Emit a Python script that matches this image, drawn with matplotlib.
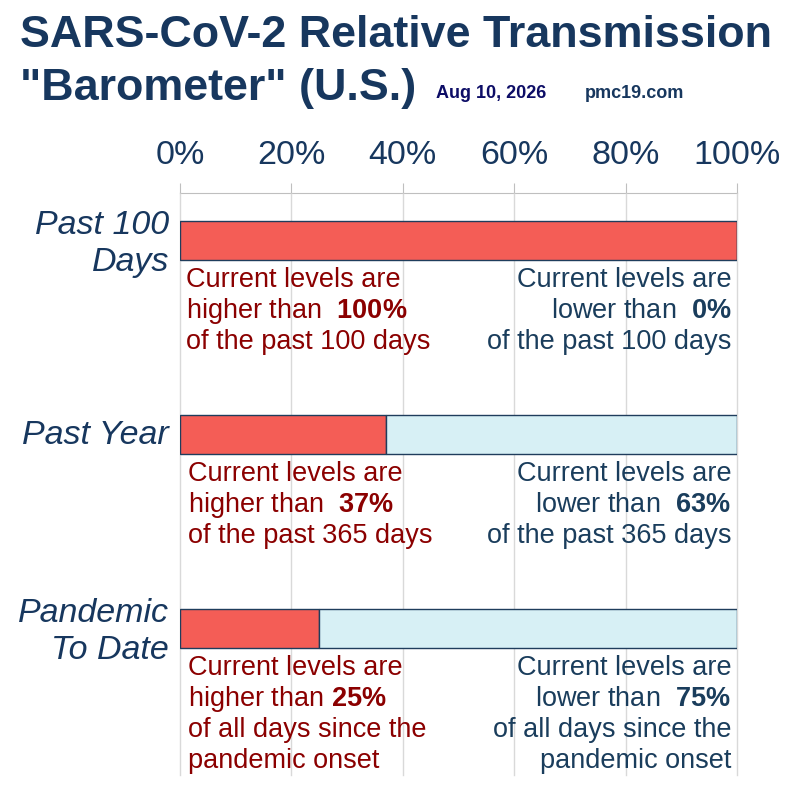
import numpy as np
import matplotlib
matplotlib.use("Agg")
import matplotlib.pyplot as plt

plt.rcParams['font.family'] = ['Liberation Sans', 'DejaVu Sans']
plt.rcParams['mathtext.fontset'] = 'custom'
plt.rcParams['mathtext.rm'] = 'Liberation Sans'
plt.rcParams['mathtext.bf'] = 'Liberation Sans:bold'

# data
categories = ['Past 100\nDays', 'Past Year', 'Pandemic\nTo Date']
higher_pct = [100, 37, 25]
lower_pct = [0, 63, 75]
period_lines = [['of the past 100 days'],
                ['of the past 365 days'],
                ['of all days since the', 'pandemic onset']]
higher_gap = ['  ', '  ', ' ']
lower_gap = ['  ', '  ', '  ']
lower_tail = ['', ' ', ' ']
tick_vals = [0, 20, 40, 60, 80, 100]

title_color = '#17375e'
red = '#f45d56'
blue = '#d7f0f5'
edge = '#1f3d5c'
left_color = '#8b0000'
right_color = '#1a3d5c'

fig = plt.figure(figsize=(7.87, 7.88), dpi=100)
# axes from x=180..737 px, y=193..775 px
ax = fig.add_axes([180 / 787, 1 - 775 / 788, 557 / 787, 582 / 788])

pos = np.arange(len(categories))
bar_h = 0.2
ax.barh(pos, higher_pct, height=bar_h, color=red, edgecolor=edge, linewidth=1, zorder=3)
ax.barh(pos, lower_pct, left=higher_pct, height=bar_h, color=blue, edgecolor=edge,
        linewidth=1, zorder=3)

ax.set_xlim(0, 100)
ax.set_ylim(2.755, -0.245)
ax.xaxis.tick_top()
ax.set_xticks(tick_vals)
ax.set_xticklabels([f'{v}%' for v in tick_vals], fontsize=24.5, color=title_color)
ax.tick_params(axis='x', length=7, color='#bfbfbf', pad=9)
ax.grid(axis='x', color='#d9d9d9', linewidth=1, zorder=0)
for gl in ax.get_xgridlines():
    gl.set_clip_on(False)

# category labels sit a few pixels above the bar centre
ax.set_yticks(pos - 0.015)
ax.set_yticklabels(categories, fontsize=24.5, style='italic', color=title_color,
                   linespacing=1.25)
ax.tick_params(axis='y', length=0, pad=8)

for s in ['left', 'right', 'bottom']:
    ax.spines[s].set_visible(False)
ax.spines['top'].set_color('#bfbfbf')
ax.spines['top'].set_zorder(1)

line_step = 0.16
for i in pos:
    left_lines = ['Current levels are',
                  'higher than' + higher_gap[i] + r'$\mathbf{' + f'{higher_pct[i]}' + r'\%}$'] \
        + period_lines[i]
    right_lines = ['Current levels are',
                   'lower than' + lower_gap[i] + r'$\mathbf{' + f'{lower_pct[i]}' + r'\%}$'
                   + lower_tail[i]] + period_lines[i]
    for k, txt in enumerate(left_lines):
        ax.text(1.1 if i == 0 else 1.5, i + 0.24 + k * line_step, txt, fontsize=19.5,
                color=left_color, ha='left', va='baseline', zorder=4)
    for k, txt in enumerate(right_lines):
        ax.text(99.0, i + 0.24 + k * line_step, txt, fontsize=19.5, color=right_color,
                ha='right', va='baseline', zorder=4)

fig.text(20 / 787, 1 - 47 / 788, 'SARS-CoV-2 Relative Transmission', fontsize=32.3,
         fontweight='bold', color=title_color, va='baseline')
fig.text(20 / 787, 1 - 100 / 788, '"Barometer" (U.S.)', fontsize=32.3,
         fontweight='bold', color=title_color, va='baseline')
fig.text(436 / 787, 1 - 98 / 788, 'Aug 10, 2026', fontsize=13, fontweight='bold',
         color='#0d0d66', va='baseline')
fig.text(585 / 787, 1 - 98 / 788, 'pmc19.com', fontsize=13, fontweight='bold',
         color=title_color, va='baseline')

fig.savefig('out.png', dpi=100)
